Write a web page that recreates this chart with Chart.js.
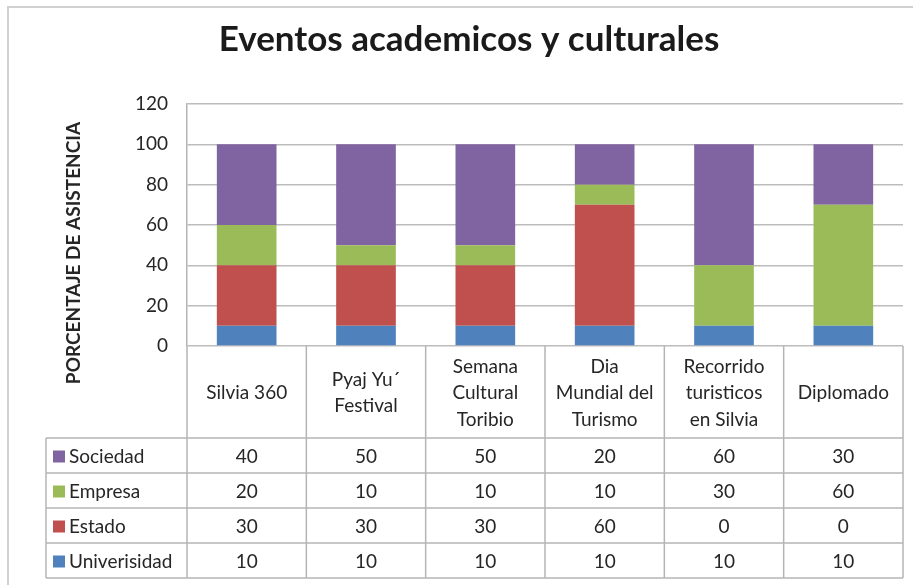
<!DOCTYPE html>
<html><head><meta charset="utf-8">
<script src="https://cdn.jsdelivr.net/npm/chart.js@4"></script>
<style>html,body{margin:0;padding:0;background:#fff}#wrap{width:913px;height:585px;position:relative}</style>
</head><body><div id="wrap"><canvas id="c"></canvas></div>
<script>
const categories = [["Silvia 360"], ["Pyaj Yu´", "Festival"], ["Semana", "Cultural", "Toribio"], ["Dia", "Mundial del", "Turismo"], ["Recorrido", "turisticos", "en Silvia"], ["Diplomado"]];
const seriesNames = ["Univerisidad", "Estado", "Empresa", "Sociedad"];
const universidad = [10, 10, 10, 10, 10, 10];
const estado = [30, 30, 30, 60, 0, 0];
const empresa = [20, 10, 10, 10, 30, 60];
const sociedad = [40, 50, 50, 20, 60, 30];
const yTicks = [0, 20, 40, 60, 80, 100, 120];
const chartTitle = "Eventos academicos y culturales";
const yTitle = "PORCENTAJE DE ASISTENCIA";
const colors = ["#4F81BD", "#C0504D", "#9BBB59", "#8064A2"];

const FONT = "Lato, 'Open Sans', sans-serif";
const TEXT = "#262626";

const tablePlugin = {
  id: 'dataTable',
  afterLayout(chart) {
    const t = chart.titleBlock;
    if (t) { t.left = 25; t.right = 913; }
  },
  beforeDraw(chart) {
    const ctx = chart.ctx;
    ctx.save();
    ctx.strokeStyle = '#d0d0d0';
    ctx.lineWidth = 2;
    ctx.strokeRect(8, 7, 1000, 1000);
    ctx.restore();
  },
  afterDraw(chart) {
    const ctx = chart.ctx, x = chart.scales.x, area = chart.chartArea;
    const n = chart.data.labels.length;
    const colW = (x.right - x.left) / n;
    const top = area.bottom, headH = 92, rowH = 35, legL = 46;
    const rows = chart.data.datasets.slice().reverse();
    const bottom = top + headH + rowH * rows.length;
    const line = (a, b, c, d) => { ctx.beginPath(); ctx.moveTo(a, b); ctx.lineTo(c, d); ctx.stroke(); };
    ctx.save();
    ctx.strokeStyle = '#b4b4b4';
    ctx.lineWidth = 1.5;
    for (let i = 0; i <= n; i++) {
      const px = i === n ? x.right : x.getPixelForValue(i) - colW / 2;
      line(px, top, px, bottom);
    }
    line(legL, top + headH, legL, bottom);
    for (let r = 0; r <= rows.length; r++) {
      const py = top + headH + r * rowH;
      line(legL, py, x.right, py);
    }
    // header labels
    ctx.fillStyle = TEXT;
    ctx.font = "19px " + FONT;
    ctx.textAlign = 'center';
    ctx.textBaseline = 'middle';
    const lh = 26.5;
    chart.data.labels.forEach((lab, i) => {
      const cx = x.getPixelForValue(i);
      const lines = Array.isArray(lab) ? lab : [lab];
      const cy = top + headH / 2 + 1;
      lines.forEach((s, k) => ctx.fillText(s, cx, cy + (k - (lines.length - 1) / 2) * lh));
    });
    // rows
    rows.forEach((ds, r) => {
      const cy = top + headH + r * rowH + rowH / 2 + 1;
      ctx.fillStyle = ds.backgroundColor;
      ctx.fillRect(53, cy - 6, 12, 12);
      ctx.fillStyle = TEXT;
      ctx.textAlign = 'left';
      ctx.fillText(ds.label, 69, cy);
      ctx.textAlign = 'center';
      ds.data.forEach((v, i) => ctx.fillText(String(v), x.getPixelForValue(i), cy));
    });
    // y axis title
    ctx.save();
    ctx.translate(74, 253);
    ctx.rotate(-Math.PI / 2);
    ctx.font = "bold 19px " + FONT;
    ctx.fillStyle = TEXT;
    ctx.textAlign = 'center';
    ctx.fillText(yTitle, 0, 0);
    ctx.restore();
    ctx.restore();
  }
};

const seriesData = [universidad, estado, empresa, sociedad];
new Chart(document.getElementById('c'), {
  type: 'bar',
  data: {
    labels: categories,
    datasets: seriesNames.map((name, i) => ({
      label: name,
      data: seriesData[i],
      backgroundColor: colors[i],
      borderWidth: 0,
      barPercentage: 0.5,
      categoryPercentage: 1.0
    }))
  },
  options: {
    responsive: true,
    maintainAspectRatio: false,
    animation: false,
    layout: { padding: { left: 0, right: 10, top: 0, bottom: 239 } },
    plugins: {
      legend: { display: false },
      tooltip: { enabled: false },
      title: {
        display: true,
        text: chartTitle,
        color: '#1a1a1a',
        font: { family: FONT, size: 35, weight: 'bold', lineHeight: 1.2 },
        padding: { top: 19, bottom: 43 }
      }
    },
    scales: {
      x: { stacked: true, display: false, grid: { display: false } },
      y: {
        stacked: true,
        min: yTicks[0],
        max: yTicks[yTicks.length - 1],
        afterFit(scale) { scale.width = 187; },
        afterBuildTicks(scale) { scale.ticks = yTicks.map(v => ({ value: v })); },
        ticks: { color: '#262626', padding: 19, font: { family: FONT, size: 19 } },
        grid: { color: '#bcbcbc', lineWidth: 1.5, drawTicks: false },
        border: { display: true, color: '#b4b4b4', width: 1.5 },
        title: { display: false }
      }
    }
  },
  plugins: [tablePlugin]
});
</script>
</body></html>
